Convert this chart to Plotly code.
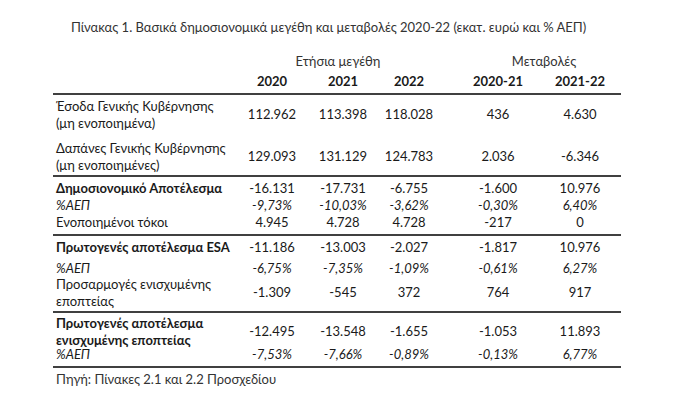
import plotly.graph_objects as go

# Στοιχεία πίνακα (εκατ. ευρώ και % ΑΕΠ)
row_labels = [
    "Έσοδα Γενικής Κυβέρνησης<br>(μη ενοποιημένα)",
    "Δαπάνες Γενικής Κυβέρνησης<br>(μη ενοποιημένες)",
    "Δημοσιονομικό Αποτέλεσμα",
    "%ΑΕΠ",
    "Ενοποιημένοι τόκοι",
    "Πρωτογενές αποτέλεσμα ESA",
    "%ΑΕΠ",
    "Προσαρμογές ενισχυμένης<br>εποπτείας",
    "Πρωτογενές αποτέλεσμα<br>ενισχυμένης εποπτείας",
    "%ΑΕΠ",
]
col_headers = ["2020", "2021", "2022", "2020-21", "2021-22"]
group_headers = ["Ετήσια μεγέθη", "Μεταβολές"]

v2020 = [112962, 129093, -16131, -9.73, 4945, -11186, -6.75, -1309, -12495, -7.53]
v2021 = [113398, 131129, -17731, -10.03, 4728, -13003, -7.35, -545, -13548, -7.66]
v2022 = [118028, 124783, -6755, -3.62, 4728, -2027, -1.09, 372, -1655, -0.89]
d2021 = [436, 2036, -1600, -0.30, -217, -1817, -0.61, 764, -1053, -0.13]
d2022 = [4630, -6346, 10976, 6.40, 0, 10976, 6.27, 917, 11893, 6.77]

title = "Πίνακας 1. Βασικά δημοσιονομικά μεγέθη και μεταβολές 2020-22 (εκατ. ευρώ και % ΑΕΠ)"
source = "Πηγή: Πίνακες 2.1 και 2.2 Προσχεδίου"

# στυλ ανά γραμμή: b = έντονα, i = πλάγια, n = κανονικά
row_style = ["n", "n", "b", "i", "n", "b", "i", "n", "b", "i"]

# θέσεις (σε pixel της σελίδας)
row_y = [108, 150, 182, 199, 216, 241, 262, 286, 325, 348]
col_x = [264, 335, 401, 490, 572]
label_x = 48
rules_y = [86, 168, 227, 304, 359]

FONT = "Lato, Carlito, Calibri, sans-serif"
FS = 13
TXT = "#1a1a1a"


def fmt(v, pct):
    if pct:
        s = f"{v:.2f}".replace(".", ",") + "%"
    else:
        s = f"{v:,.0f}".replace(",", ".")
    return s


fig = go.Figure()

# ετικέτες γραμμών
labels = []
for lab, st in zip(row_labels, row_style):
    if st == "b":
        lab = "<b>" + lab + "</b>"
    elif st == "i":
        lab = "<i>" + lab + "</i>"
    labels.append(lab)
fig.add_trace(go.Scatter(
    x=[label_x] * len(labels), y=row_y, text=labels, mode="text",
    textposition="middle right", textfont=dict(family=FONT, size=FS, color=TXT),
    hoverinfo="skip", showlegend=False))

# στήλες αριθμών
for cx, vals in zip(col_x, [v2020, v2021, v2022, d2021, d2022]):
    txt = []
    for v, st in zip(vals, row_style):
        s = fmt(v, st == "i")
        txt.append("<i>" + s + "</i>" if st == "i" else s)
    fig.add_trace(go.Scatter(
        x=[cx] * len(txt), y=row_y, text=txt, mode="text",
        textposition="middle center", textfont=dict(family=FONT, size=FS, color=TXT),
        hoverinfo="skip", showlegend=False))

# επικεφαλίδες
fig.add_trace(go.Scatter(
    x=col_x, y=[75] * len(col_x), text=["<b>" + h + "</b>" for h in col_headers],
    mode="text", textposition="middle center",
    textfont=dict(family=FONT, size=FS, color=TXT), hoverinfo="skip", showlegend=False))
fig.add_trace(go.Scatter(
    x=[330, 536], y=[55, 55], text=group_headers, mode="text",
    textposition="middle center", textfont=dict(family=FONT, size=FS, color="#333333"),
    hoverinfo="skip", showlegend=False))

# τίτλος και πηγή
fig.add_trace(go.Scatter(
    x=[63, label_x], y=[21, 373], text=[title, source], mode="text",
    textposition="middle right", textfont=dict(family=FONT, size=FS, color="#333333"),
    hoverinfo="skip", showlegend=False))

for yy in rules_y:
    fig.add_shape(type="line", x0=45, x1=613, y0=yy, y1=yy, xref="x", yref="y",
                  line=dict(color="black", width=1.6))

fig.update_layout(
    width=685, height=404,
    margin=dict(l=0, r=0, t=0, b=0),
    paper_bgcolor="white", plot_bgcolor="white",
    xaxis=dict(range=[0, 685], visible=False, fixedrange=True),
    yaxis=dict(range=[404, 0], visible=False, fixedrange=True),
)

fig.write_html("out.html")
